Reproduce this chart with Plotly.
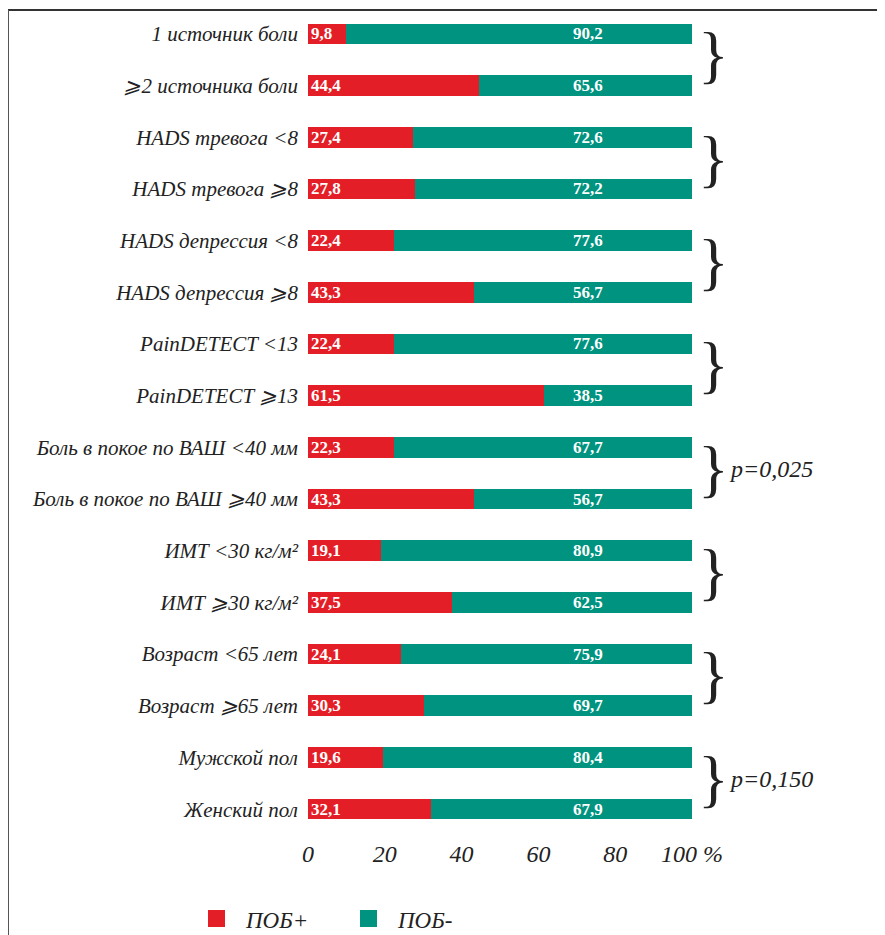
import plotly.graph_objects as go

categories = [
    "1 источник боли", "⩾2 источника боли",
    "HADS тревога <8", "HADS тревога ⩾8",
    "HADS депрессия <8", "HADS депрессия ⩾8",
    "PainDETECT <13", "PainDETECT ⩾13",
    "Боль в покое по ВАШ <40 мм", "Боль в покое по ВАШ ⩾40 мм",
    "ИМТ <30 кг/м²", "ИМТ ⩾30 кг/м²",
    "Возраст <65 лет", "Возраст ⩾65 лет",
    "Мужской пол", "Женский пол",
]
pob_plus = [9.8, 44.4, 27.4, 27.8, 22.4, 43.3, 22.4, 61.5, 22.3, 43.3, 19.1, 37.5, 24.1, 30.3, 19.6, 32.1]
# bar lengths of the teal segment as drawn (every bar reaches 100)
pob_minus = [90.2, 55.6, 72.6, 72.2, 77.6, 56.7, 77.6, 38.5, 77.7, 56.7, 80.9, 62.5, 75.9, 69.7, 80.4, 67.9]
plus_labels = ["9,8", "44,4", "27,4", "27,8", "22,4", "43,3", "22,4", "61,5", "22,3", "43,3", "19,1", "37,5", "24,1", "30,3", "19,6", "32,1"]
minus_labels = ["90,2", "65,6", "72,6", "72,2", "77,6", "56,7", "77,6", "38,5", "67,7", "56,7", "80,9", "62,5", "75,9", "69,7", "80,4", "67,9"]
x_ticks = [0, 20, 40, 60, 80, 100]
x_tick_text = ["0", "20", "40", "60", "80", "100 %"]
p_values = {8.5: "p=0,025", 14.5: "p=0,150"}
series_names = ["ПОБ+", "ПОБ-"]

RED = "#E41E26"
TEAL = "#00937F"
SERIF = "Liberation Serif, Times New Roman, DejaVu Serif, serif"

idx = list(range(len(categories)))

fig = go.Figure()
fig.add_trace(go.Bar(
    y=idx, x=pob_plus, orientation="h", name=series_names[0],
    marker=dict(color=RED, line=dict(width=0)),
    text=[f"<b>{t}</b>" for t in plus_labels], textposition="inside", insidetextanchor="start",
    constraintext="none",
    textfont=dict(family=SERIF, size=17, color="white"),
    textangle=0, cliponaxis=False, showlegend=False,
))
fig.add_trace(go.Bar(
    y=idx, x=pob_minus, orientation="h", name=series_names[1],
    marker=dict(color=TEAL, line=dict(width=0)), showlegend=False,
))

annotations = []
for i, lab in enumerate(minus_labels):
    annotations.append(dict(x=73, y=i, xref="x", yref="y", text=f"<b>{lab}</b>",
                            showarrow=False, font=dict(family=SERIF, size=17, color="white")))
for k in range(0, len(categories), 2):
    annotations.append(dict(x=1.057, y=k + 0.5, xref="paper", yref="y", text="}",
                            showarrow=False, xanchor="center", yanchor="middle", yshift=5,
                            font=dict(family=SERIF, size=64, color="#222222")))
for yv, txt in p_values.items():
    annotations.append(dict(x=1.09, y=yv, xref="paper", yref="y", text=f"<i>{txt}</i>",
                            showarrow=False, xanchor="left", yanchor="middle", yshift=4,
                            font=dict(family=SERIF, size=24, color="#222222")))

# page coordinates are offset by the 8px body margin
OFF = 8
L, R = 308 - OFF, 692 - OFF
T, B = 0, 835 - OFF
def px(xp):
    return (xp - OFF - L) / (R - L)
def py(yp):
    return (B - (yp - OFF)) / (B - T)

shapes = [
    dict(type="line", xref="paper", yref="paper", x0=px(8), x1=px(900), y0=py(10), y1=py(10),
         line=dict(color="#333333", width=2)),
    dict(type="line", xref="paper", yref="paper", x0=px(8), x1=px(8), y0=py(10), y1=py(950),
         line=dict(color="#555555", width=2)),
]

# legend drawn as swatches + labels
legend_items = [(series_names[0], RED, 208), (series_names[1], TEAL, 360)]
for name, col, x0 in legend_items:
    shapes.append(dict(type="rect", xref="paper", yref="paper",
                       x0=px(x0), x1=px(x0 + 17), y0=py(927), y1=py(910),
                       fillcolor=col, line=dict(width=0)))
    annotations.append(dict(x=px(x0 + 35), y=py(920), xref="paper", yref="paper",
                            text=f"<i>{name}</i>", showarrow=False, xanchor="left", yanchor="middle",
                            font=dict(family=SERIF, size=23, color="#222222")))

fig.update_layout(
    barmode="stack",
    bargap=0.6,
    width=885, height=935,
    margin=dict(l=L, r=885 - R, t=T, b=935 - B),
    plot_bgcolor="white", paper_bgcolor="white",
    showlegend=False,
    annotations=annotations,
    shapes=shapes,
    xaxis=dict(range=[0, 100], tickvals=x_ticks, ticktext=x_tick_text,
               showgrid=False, zeroline=False, showline=False, ticks="",
               tickfont=dict(family=SERIF, size=24, color="#222222", style="italic"),
               ticklabelstandoff=2),
    yaxis=dict(tickvals=idx, ticktext=categories, autorange="reversed",
               range=[len(categories) - 0.5, -0.5],
               showgrid=False, zeroline=False, showline=False, ticks="",
               tickfont=dict(family=SERIF, size=21, color="#222222", style="italic"),
               ticklabelstandoff=9),
)

fig.write_html("out.html")
